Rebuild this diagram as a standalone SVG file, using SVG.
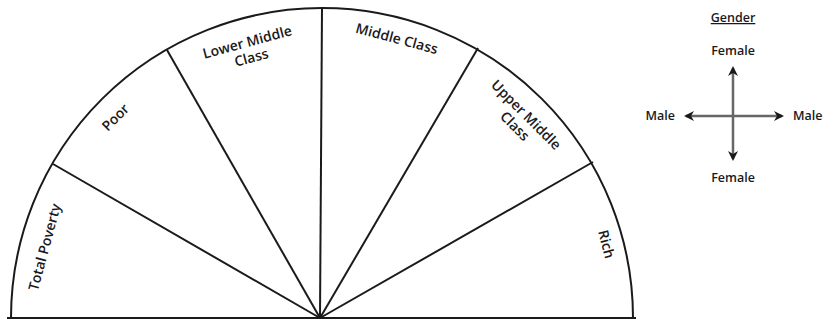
<svg xmlns="http://www.w3.org/2000/svg" width="824" height="321" viewBox="0 0 824 321">
<style>
.ln{fill:none;stroke:#1a1a1a;stroke-width:2}
.lbl{font-family:"Open Sans","Liberation Sans",sans-serif;font-size:14px;font-weight:600;fill:#1a1a1a;text-anchor:middle;dominant-baseline:central}
.lg{font-family:"Open Sans","Liberation Sans",sans-serif;font-size:12.5px;font-weight:600;fill:#1a1a1a}
.ax{stroke:#666;stroke-width:2.5;fill:none}
</style>
<defs>
<marker id="ah" viewBox="0 0 10 10" refX="8" refY="5" markerWidth="4" markerHeight="4" orient="auto-start-reverse" markerUnits="strokeWidth">
<path d="M0,0 L10,5 L0,10 L3,5 Z" fill="#1a1a1a"/>
</marker>
</defs>
<rect width="824" height="321" fill="#fff"/>
<g id="connectors">
<path class="ln" d="M11,318 A311,310 0 0 1 633,318"/>
<line class="ln" x1="7" y1="318" x2="636" y2="318"/>
<line class="ln" x1="320" y1="318" x2="53" y2="164"/>
<line class="ln" x1="320" y1="318" x2="167" y2="50"/>
<line class="ln" x1="320" y1="318" x2="322" y2="8"/>
<line class="ln" x1="320" y1="318" x2="478" y2="48"/>
<line class="ln" x1="320" y1="318" x2="593" y2="162"/>
</g>
<g id="total-poverty"><text class="lbl" transform="translate(44,247) rotate(-75)">Total Poverty</text></g>
<g id="poor"><text class="lbl" transform="translate(115,117) rotate(-45)">Poor</text></g>
<g id="lower-middle-class"><text class="lbl" transform="translate(247,41) rotate(-15)"><tspan x="0" y="0">Lower Middle</tspan><tspan x="0" y="16">Class</tspan></text></g>
<g id="middle-class"><text class="lbl" transform="translate(397,38) rotate(15)">Middle Class</text></g>
<g id="upper-middle-class"><text class="lbl" transform="translate(527,114) rotate(45)"><tspan x="0" y="0">Upper Middle</tspan><tspan x="0" y="16">Class</tspan></text></g>
<g id="rich"><text class="lbl" transform="translate(607,244) rotate(75)">Rich</text></g>
<g id="gender-legend">
<text class="lg" x="733" y="22" text-anchor="middle" text-decoration="underline">Gender</text>
<text class="lg" x="733" y="55" text-anchor="middle">Female</text>
<text class="lg" x="733" y="182" text-anchor="middle">Female</text>
<text class="lg" x="675" y="120" text-anchor="end">Male</text>
<text class="lg" x="793" y="120">Male</text>
<line class="ax" x1="733" y1="68" x2="733" y2="159" marker-start="url(#ah)" marker-end="url(#ah)"/>
<line class="ax" x1="686" y1="116" x2="782" y2="116" marker-start="url(#ah)" marker-end="url(#ah)"/>
</g>
</svg>
